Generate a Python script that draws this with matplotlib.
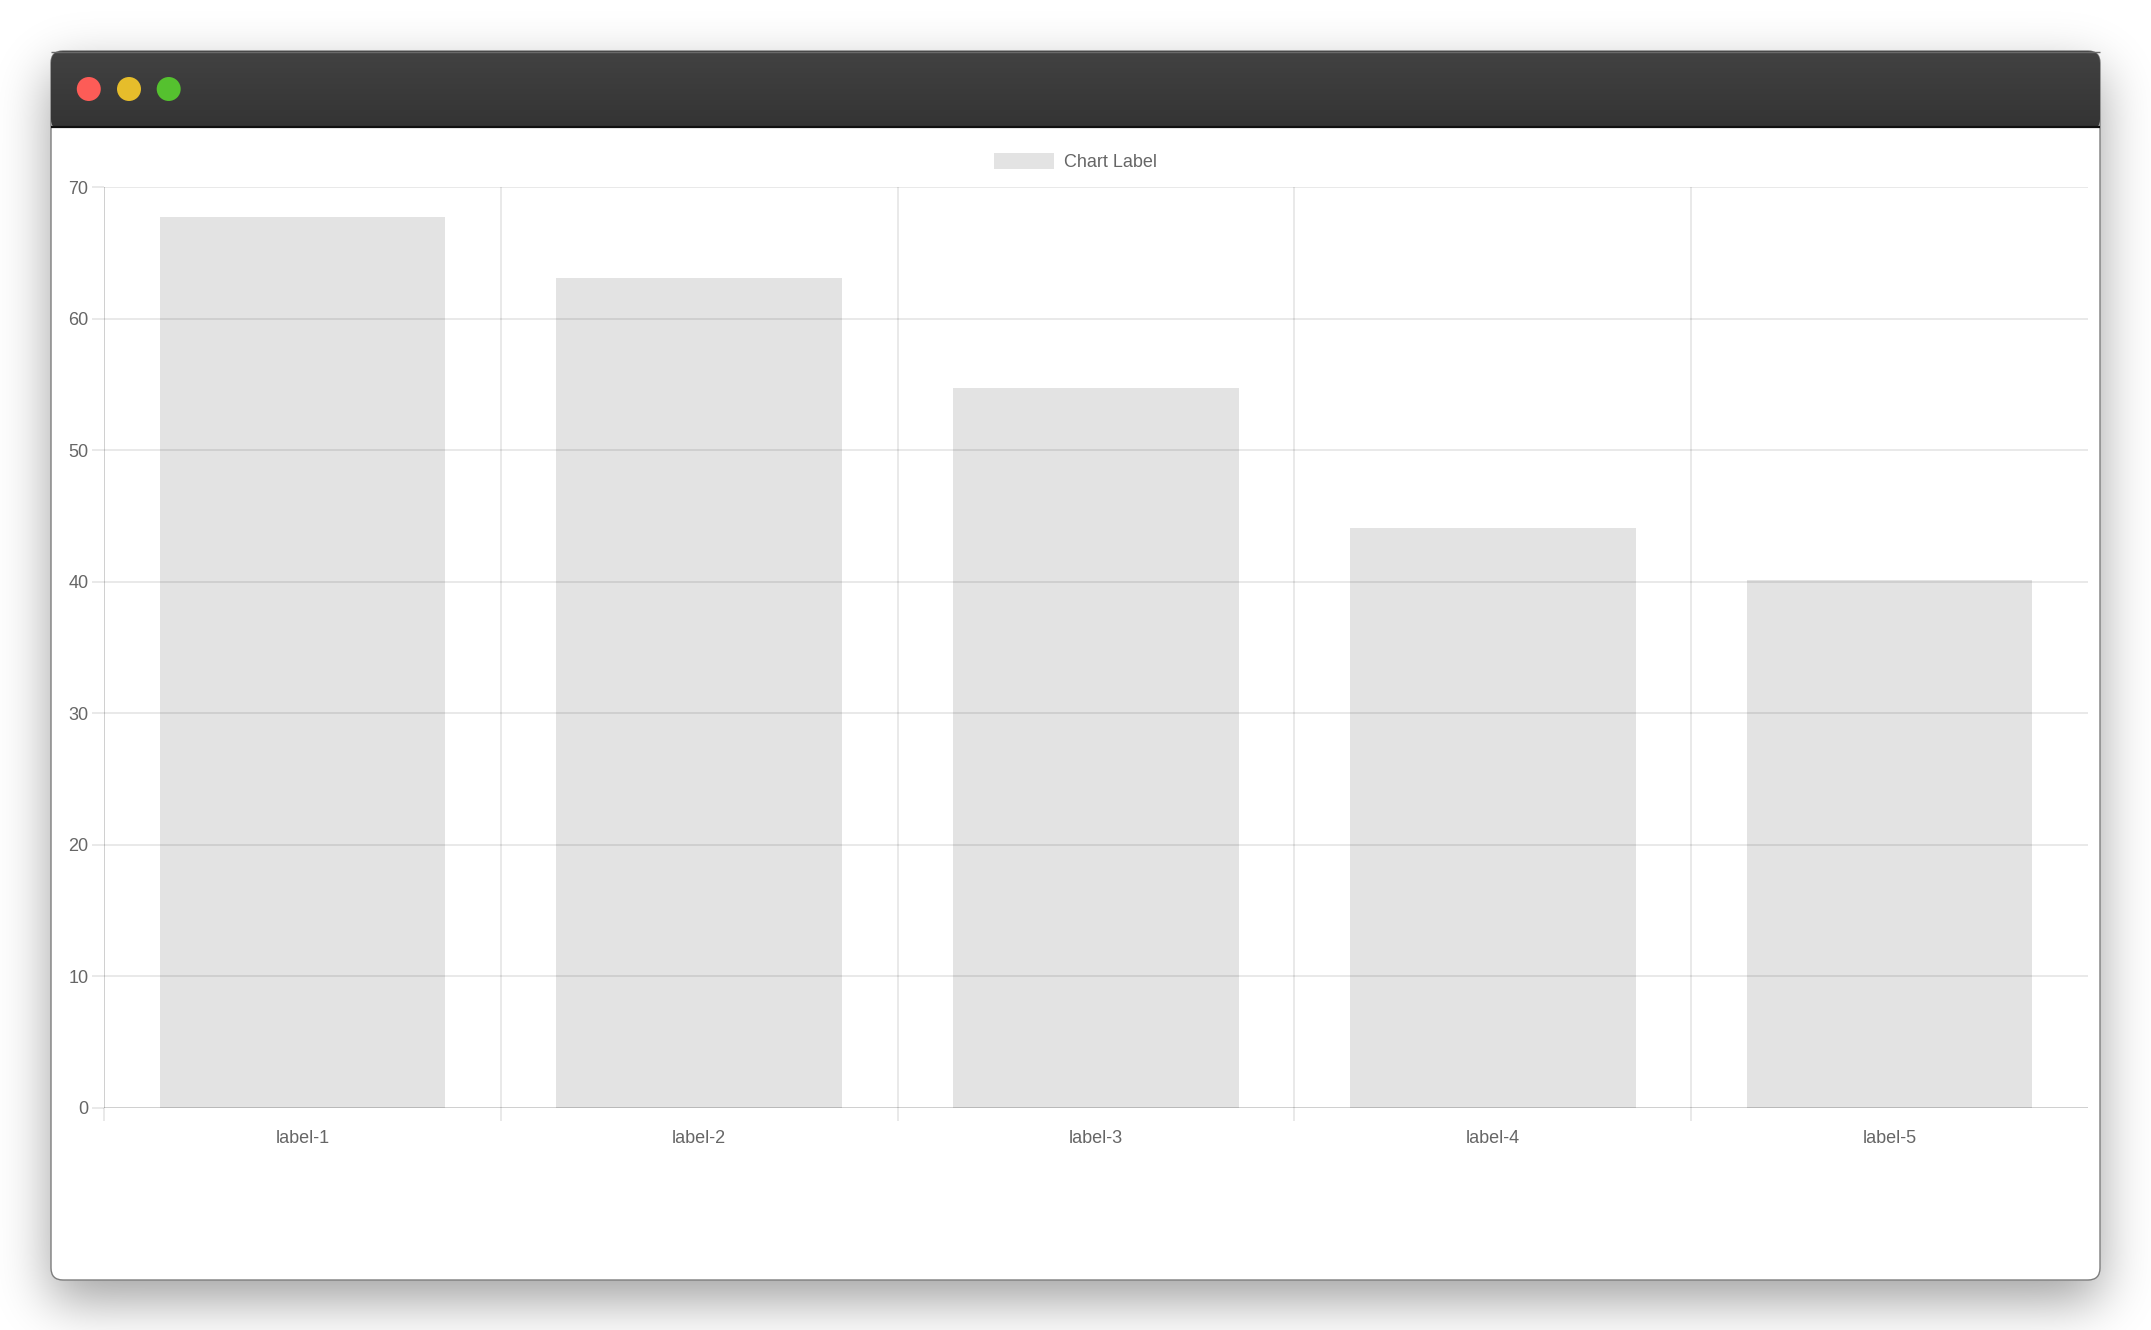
import math
import numpy as np
import matplotlib
matplotlib.use("Agg")
from matplotlib import pyplot as plt
from matplotlib.patches import FancyBboxPatch, Circle
from matplotlib.ticker import FixedLocator

# data
labels = ["label-1", "label-2", "label-3", "label-4", "label-5"]
values = [67.7, 63.1, 54.7, 44.1, 40.1]
series_name = "Chart Label"
y_ticks = [0, 10, 20, 30, 40, 50, 60, 70]

W, H = 2151, 1330
plt.rcParams['font.family'] = ['Liberation Sans', 'DejaVu Sans']

fig = plt.figure(figsize=(W / 100, H / 100), dpi=100)
fig.patch.set_facecolor('white')

bg = fig.add_axes([0, 0, 1, 1])
bg.set_xlim(0, W)
bg.set_ylim(H, 0)
bg.axis('off')

# window frame (pixels)
wx0, wy0, wx1, wy1 = 51, 51, 2100, 1280
bar_bottom = 127

# soft shadow under the window
erf = np.vectorize(math.erf)
sig = 26.0
xs = np.arange(W) + 0.5
ys = np.arange(H) + 0.5
fx = 0.5 * (erf((xs - wx0) / (sig * 1.414)) - erf((xs - wx1) / (sig * 1.414)))
fy = 0.5 * (erf((ys - wy0 - 20) / (sig * 1.414)) - erf((ys - wy1 - 20) / (sig * 1.414)))
shadow = np.zeros((H, W, 4))
shadow[..., 3] = 0.38 * np.outer(fy, fx)
bg.imshow(shadow, extent=[0, W, H, 0], interpolation='bilinear', zorder=0)

win = FancyBboxPatch((wx0, wy0), wx1 - wx0, wy1 - wy0,
                     boxstyle="round,pad=0,rounding_size=12",
                     fc='white', ec='#7d7d7d', lw=1.0, zorder=1)
bg.add_patch(win)

# title bar with gradient
title_clip = FancyBboxPatch((wx0, wy0), wx1 - wx0, 80,
                            boxstyle="round,pad=0,rounding_size=12",
                            fc='none', ec='none', zorder=2)
bg.add_patch(title_clip)
grad = np.linspace(0, 1, 64)[:, None]
top_c = np.array([0x42, 0x42, 0x42]) / 255
bot_c = np.array([0x34, 0x34, 0x34]) / 255
img = top_c[None, None, :] * (1 - grad[..., None]) + bot_c[None, None, :] * grad[..., None]
im = bg.imshow(img, extent=[wx0, wx1, bar_bottom, wy0], aspect='auto', zorder=2)
im.set_clip_path(title_clip)
bg.plot([wx0, wx1], [wy0 + 1, wy0 + 1], color='#6a6a6a', lw=1.0, zorder=3, solid_capstyle='butt')
bg.plot([wx0, wx1], [bar_bottom, bar_bottom], color='#101010', lw=1.6, zorder=3, solid_capstyle='butt')
bg.set_xlim(0, W)
bg.set_ylim(H, 0)

for cx, col in [(88.8, '#fd5c57'), (129.0, '#e6bd2b'), (168.7, '#55c12f')]:
    bg.add_patch(Circle((cx, 89), 12, fc=col, ec='none', zorder=4))

# chart area
left, right, top, bottom = 104, 2088, 187, 1108
ax = fig.add_axes([left / W, 1 - bottom / H, (right - left) / W, (bottom - top) / H])
ax.set_facecolor('none')
ax.set_zorder(5)

grid_c = (0, 0, 0, 0.1)
zero_c = (0, 0, 0, 0.22)
text_c = '#666666'
fs = 12.96

x = np.arange(len(labels))
ax.bar(x, values, width=0.72, color=(0, 0, 0, 0.11), edgecolor='none', label=series_name, zorder=2)

ax.set_xlim(-0.5, len(labels) - 0.5)
ax.set_ylim(0, 70)
for s in ax.spines.values():
    s.set_visible(False)

# horizontal grid lines with ticks pointing left
ax.yaxis.set_major_locator(FixedLocator(y_ticks))
ax.set_yticklabels([str(v) for v in y_ticks])
for v in y_ticks:
    ax.axhline(v, color=zero_c if v == 0 else grid_c, lw=1.2, zorder=1)
ax.tick_params(axis='y', length=9, width=1.2, color=grid_c, pad=2.2,
               labelsize=fs, labelcolor=text_c)

# vertical grid lines at category boundaries, ticks pointing down
bounds = np.arange(len(labels)) - 0.5
for i, b in enumerate(bounds):
    ax.axvline(b, color=zero_c if i == 0 else grid_c, lw=1.2, zorder=1)
ax.xaxis.set_major_locator(FixedLocator(x))
ax.set_xticklabels(labels)
ax.xaxis.set_minor_locator(FixedLocator(bounds))
ax.tick_params(axis='x', which='major', length=0, pad=15.5, labelsize=fs, labelcolor=text_c)
ax.tick_params(axis='x', which='minor', length=9, width=1.2, color=grid_c)

leg = ax.legend(loc='center', bbox_to_anchor=(1075.5 / W, 1 - 162 / H),
                bbox_transform=fig.transFigure, frameon=False, fontsize=fs,
                handlelength=3.33, handleheight=1.0, handletextpad=0.55,
                borderpad=0, borderaxespad=0)
for t in leg.get_texts():
    t.set_color(text_c)

fig.savefig("out.png", dpi=100, facecolor='white')
